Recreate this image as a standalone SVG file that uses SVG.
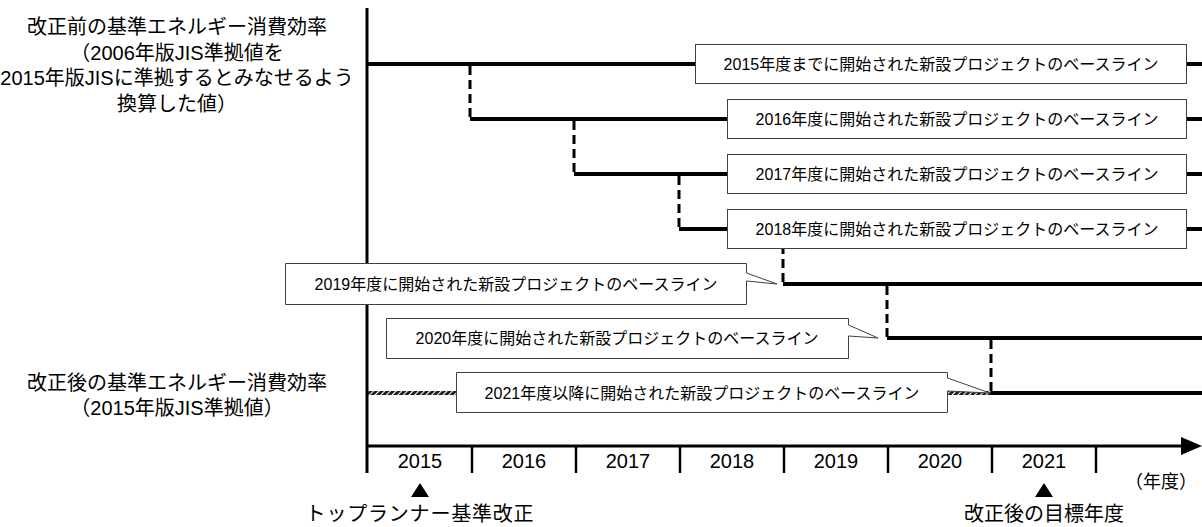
<svg xmlns="http://www.w3.org/2000/svg" width="1202" height="527" viewBox="0 0 1202 527">
<style>
.t{font-family:"Liberation Sans","Noto Sans CJK JP",sans-serif;fill:#000;text-anchor:middle}
.big{font-size:20px}
.sm{font-size:16px}
.box{fill:#fff;stroke:#404040;stroke-width:1}
.base{stroke:#000;stroke-width:4;fill:none}
.dash{stroke:#000;stroke-width:3;stroke-dasharray:9 5;fill:none}
.axis{stroke:#000;stroke-width:3;fill:none}
.tick{stroke:#000;stroke-width:2.5;fill:none}
</style>
<defs>
<pattern id="hatch" width="4" height="4" patternUnits="userSpaceOnUse" patternTransform="rotate(45)">
<rect width="4" height="4" fill="#1a1a1a"/>
<rect width="1.1" height="4" fill="#fff"/>
</pattern>
</defs>
<rect width="1202" height="527" fill="#fff"/>

<g id="axes">
<line class="axis" x1="367" y1="8" x2="367" y2="473"/>
<line class="axis" x1="367" y1="446" x2="1184" y2="446"/>
<polygon points="1181,437 1202,446 1181,455" fill="#000"/>
<line class="tick" x1="472" y1="446" x2="472" y2="473"/>
<line class="tick" x1="576" y1="446" x2="576" y2="473"/>
<line class="tick" x1="680" y1="446" x2="680" y2="473"/>
<line class="tick" x1="784" y1="446" x2="784" y2="473"/>
<line class="tick" x1="888" y1="446" x2="888" y2="473"/>
<line class="tick" x1="992" y1="446" x2="992" y2="473"/>
<line class="tick" x1="1096" y1="446" x2="1096" y2="473"/>
<text class="t big" x="420" y="468">2015</text>
<text class="t big" x="524" y="468">2016</text>
<text class="t big" x="628" y="468">2017</text>
<text class="t big" x="732" y="468">2018</text>
<text class="t big" x="836" y="468">2019</text>
<text class="t big" x="940" y="468">2020</text>
<text class="t big" x="1044" y="468">2021</text>
<text class="t" style="font-size:18px" x="1161" y="488">（年度）</text>
</g>

<g id="connectors">
<rect x="368" y="391" width="624" height="4" fill="url(#hatch)"/>
<line class="base" x1="368" y1="64" x2="1202" y2="64"/>
<line class="base" x1="470" y1="119" x2="1202" y2="119"/>
<line class="base" x1="574" y1="174" x2="1202" y2="174"/>
<line class="base" x1="679" y1="229" x2="1202" y2="229"/>
<line class="base" x1="783" y1="284" x2="1202" y2="284"/>
<line class="base" x1="887" y1="338" x2="1202" y2="338"/>
<line class="base" x1="991" y1="393" x2="1202" y2="393"/>
<line class="dash" x1="470" y1="66" x2="470" y2="119"/>
<line class="dash" x1="574" y1="121" x2="574" y2="174"/>
<line class="dash" x1="679" y1="176" x2="679" y2="229"/>
<line class="dash" x1="783" y1="231" x2="783" y2="284"/>
<line class="dash" x1="887" y1="286" x2="887" y2="338"/>
<line class="dash" x1="991" y1="340" x2="991" y2="393"/>
</g>

<g id="label-before">
<text class="t big" x="177" y="34">改正前の基準エネルギー消費効率</text>
<text class="t big" x="177" y="60">（2006年版JIS準拠値を</text>
<text class="t big" x="177" y="85">2015年版JISに準拠するとみなせるよう</text>
<text class="t big" x="177" y="111">換算した値）</text>
</g>
<g id="label-after">
<text class="t big" x="177" y="390">改正後の基準エネルギー消費効率</text>
<text class="t big" x="177" y="415">（2015年版JIS準拠値）</text>
</g>

<g id="node-2015">
<rect class="box" x="695.5" y="44.5" width="491" height="39"/>
<text class="t sm" x="941" y="69.5">2015年度までに開始された新設プロジェクトのベースライン</text>
</g>
<g id="node-2016">
<rect class="box" x="727.5" y="99.5" width="459" height="39"/>
<text class="t sm" x="957" y="124.5">2016年度に開始された新設プロジェクトのベースライン</text>
</g>
<g id="node-2017">
<rect class="box" x="727.5" y="154.5" width="459" height="39"/>
<text class="t sm" x="957" y="179.5">2017年度に開始された新設プロジェクトのベースライン</text>
</g>
<g id="node-2018">
<rect class="box" x="727.5" y="209.5" width="459" height="39"/>
<text class="t sm" x="957" y="234.5">2018年度に開始された新設プロジェクトのベースライン</text>
</g>
<g id="node-2019">
<path class="box" d="M285.5,263.5 H746.5 V273 L777,284 L746.5,281 V304.5 H285.5 Z"/>
<text class="t sm" x="516" y="289.5">2019年度に開始された新設プロジェクトのベースライン</text>
</g>
<g id="node-2020">
<path class="box" d="M386.5,318.5 H848.5 V325 L878,338 L848.5,336 V358.5 H386.5 Z"/>
<text class="t sm" x="617" y="344">2020年度に開始された新設プロジェクトのベースライン</text>
</g>
<g id="node-2021">
<path class="box" d="M456.5,372.5 H947.5 V378 L990,393 L947.5,391 V412.5 H456.5 Z"/>
<text class="t sm" x="702" y="398.5">2021年度以降に開始された新設プロジェクトのベースライン</text>
</g>

<g id="marker-2015">
<polygon points="420,483 411,497 429,497" fill="#000"/>
<text class="t big" x="420" y="521" letter-spacing="0.8">トップランナー基準改正</text>
</g>
<g id="marker-2021">
<polygon points="1044,483 1035,497 1053,497" fill="#000"/>
<text class="t big" x="1044" y="521">改正後の目標年度</text>
</g>
</svg>
